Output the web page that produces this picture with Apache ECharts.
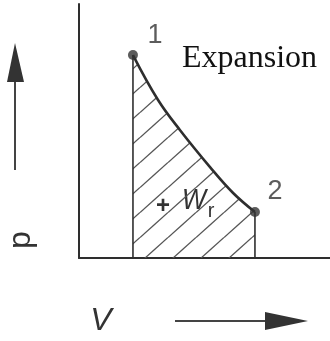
<!DOCTYPE html>
<html><head><meta charset="utf-8">
<script src="https://cdn.jsdelivr.net/npm/echarts@6/dist/echarts.min.js"></script>
<style>html,body{margin:0;padding:0;background:#fff}#c{width:330px;height:341px}</style>
</head><body><div id="c"></div>
<script>
// Expansion curve 1 -> 2 (V, p in arbitrary units)
const volume = [2.15, 3.15, 4.02, 5.22, 6.14, 7.01];
const pressure = [7.99, 6.22, 5.04, 3.58, 2.56, 1.81];
const stateLabels = ['1', '2'];

const curve = volume.map((v, i) => [v, pressure[i]]);
const last = volume.length - 1;
const states = [
  { value: [volume[0], pressure[0]], name: stateLabels[0], label: { offset: [22, -20] } },
  { value: [volume[last], pressure[last]], name: stateLabels[1], label: { offset: [20, -20] } }
];

// hatch pattern tile
const TW = 28, TH = 25;
const tile = document.createElement('canvas');
tile.width = TW; tile.height = TH;
const g = tile.getContext('2d');
g.strokeStyle = '#555'; g.lineWidth = 1.3;
for (const k of [-0.5, 0.5, 1.5, 2.5]) {
  g.beginPath(); g.moveTo(0, k * TH); g.lineTo(TW, (k - 1) * TH); g.stroke();
}

const ink = '#2e2e2e';
const chart = echarts.init(document.getElementById('c'), null, { renderer: 'canvas' });
chart.setOption({
  animation: false,
  backgroundColor: '#fff',
  grid: { left: 79, right: 0, top: 4, bottom: 83 },
  xAxis: { type: 'value', min: 0, max: 10,
    axisLine: { show: true, lineStyle: { color: ink, width: 2 } },
    axisTick: { show: false }, axisLabel: { show: false }, splitLine: { show: false } },
  yAxis: { type: 'value', min: 0, max: 10,
    axisLine: { show: true, lineStyle: { color: ink, width: 2 } },
    axisTick: { show: false }, axisLabel: { show: false }, splitLine: { show: false } },
  series: [
    { type: 'line', data: curve, smooth: 0.4, symbol: 'none',
      lineStyle: { color: ink, width: 2.6 },
      areaStyle: { color: { image: tile, repeat: 'repeat' }, opacity: 1 }, z: 2 },
    { type: 'line', data: [[volume[0], 0], [volume[0], pressure[0]]], symbol: 'none',
      lineStyle: { color: ink, width: 1.6 }, z: 3 },
    { type: 'line', data: [[volume[last], pressure[last]], [volume[last], 0]], symbol: 'none',
      lineStyle: { color: ink, width: 1.6 }, z: 3 },
    { type: 'scatter', data: states, symbolSize: 10, itemStyle: { color: '#333' }, z: 4,
      label: { show: true, position: 'inside', formatter: '{b}',
        fontFamily: 'Liberation Sans', fontSize: 27, color: '#333' } }
  ],
  graphic: [
    { type: 'text', left: 182, top: 43, style: { text: 'Expansion', font: '32px "Liberation Serif"', fill: '#111' } },
    { type: 'text', x: 163, y: 206, style: { text: '+', font: 'bold 24px "Liberation Sans"', fill: '#333', align: 'center', verticalAlign: 'middle' } },
    { type: 'text', x: 194, y: 201, scaleX: 0.85, style: { text: 'W', font: 'italic 30px "Liberation Sans"', fill: '#333', align: 'center', verticalAlign: 'middle' } },
    { type: 'text', x: 211, y: 211, style: { text: 'r', font: '20px "Liberation Sans"', fill: '#333', align: 'center', verticalAlign: 'middle' } },
    { type: 'text', x: 101, y: 321, style: { text: 'V', font: 'italic 32px "Liberation Sans"', fill: '#333', align: 'center', verticalAlign: 'middle' } },
    { type: 'text', x: 21, y: 240, rotation: Math.PI / 2, style: { text: 'p', font: '32px "Liberation Sans"', fill: '#333', align: 'center', verticalAlign: 'middle' } },
    { type: 'line', shape: { x1: 15, y1: 170, x2: 15, y2: 80 }, style: { stroke: '#444', lineWidth: 2 } },
    { type: 'polygon', shape: { points: [[15, 43], [7, 82], [24, 82]] }, style: { fill: '#333' } },
    { type: 'line', shape: { x1: 175, y1: 321, x2: 268, y2: 321 }, style: { stroke: '#444', lineWidth: 2 } },
    { type: 'polygon', shape: { points: [[265, 312], [308, 321], [265, 330]] }, style: { fill: '#333' } }
  ]
});
</script>
</body></html>
